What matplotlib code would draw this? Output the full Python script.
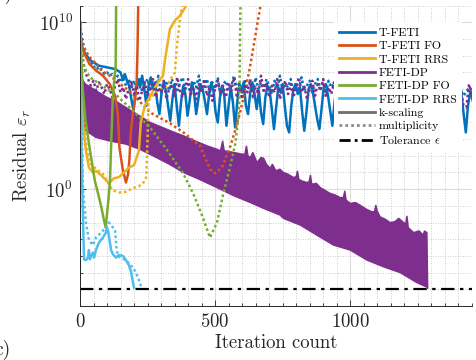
import numpy as np
import matplotlib
matplotlib.use('Agg')
import matplotlib.pyplot as plt
from matplotlib.lines import Line2D
from matplotlib.ticker import FixedLocator, MultipleLocator, LogFormatterSciNotation, NullFormatter

plt.rcParams['font.family'] = 'cmr10'
plt.rcParams['mathtext.fontset'] = 'cm'
plt.rcParams['axes.formatter.use_mathtext'] = True

# ---------------- data (iteration, log10 residual) ----------------
# T-FETI, k-scaling (solid)
tfeti_k_head_it = [0, 3, 8, 20, 40, 70, 100, 130]
tfeti_k_head_log = [10.0, 9.0, 8.5, 8.1, 7.7, 7.4, 7.3, 7.2]
tfeti_k_mid_it = list(range(150, 951, 8))
tfeti_k_mid_log = [7.0, 6.6, 6.9, 6.5, 6.2, 5.4, 4.7, 5.9, 6.6, 6.1, 6.8, 6.0, 5.0, 6.2, 6.7, 6.0, 6.4, 5.2,
                   4.5, 5.8, 6.4, 5.9, 5.0, 4.1, 5.4, 6.3, 5.0, 3.8, 5.2, 6.2, 5.7, 4.4, 5.3, 6.4, 5.8, 4.5,
                   5.4, 6.3, 6.0, 5.3, 4.5, 5.7, 6.4, 5.9, 4.6, 4.0, 5.5, 6.2, 5.6, 3.8, 5.0, 6.1, 5.2, 3.7,
                   5.2, 6.3, 5.9, 6.4, 5.0, 4.5, 5.8, 6.4, 5.7, 4.8, 5.9, 4.6, 3.9, 5.5, 6.2, 5.9, 4.8, 3.6,
                   4.9, 6.1, 5.8, 6.3, 5.0, 3.8, 3.4, 5.0, 6.0, 6.3, 5.7, 6.1, 4.7, 3.5, 4.6, 6.0, 6.3, 5.8,
                   5.0, 4.2, 3.6, 4.8, 6.1, 6.3, 5.6, 4.7, 3.8, 5.2, 6.2]
tfeti_k_tail_it = [1000, 1050, 1100, 1150, 1200, 1250, 1300, 1350, 1410, 1420, 1428, 1436, 1445, 1455]
tfeti_k_tail_log = [5.0, 6.0, 4.5, 6.1, 4.2, 6.0, 4.5, 6.2, 6.0, 4.5, 3.4, 5.0, 5.9, 5.2]

# T-FETI, multiplicity (dotted)
tfeti_m_it = list(range(0, 960, 10)) + [1000, 1050, 1100, 1150, 1200, 1250, 1300, 1350, 1400, 1420, 1440, 1460]
tfeti_m_log = [10.0, 8.8, 8.3, 7.9, 7.6, 7.3, 7.4, 7.1, 7.2, 6.9, 7.0, 6.8, 6.9, 6.6, 6.8, 6.4, 6.7, 6.2, 6.6, 6.0,
               6.5, 6.1, 6.7, 5.8, 6.3, 6.6, 5.9, 6.4, 6.0, 6.8, 5.7, 6.2, 6.5, 5.9, 6.6, 6.1, 5.8, 6.4, 6.7, 6.0,
               6.3, 5.7, 6.5, 6.1, 6.8, 5.9, 6.2, 6.6, 5.8, 6.4, 6.0, 6.7, 5.6, 6.3, 6.5, 5.9, 6.2, 6.8, 6.0, 6.4,
               5.7, 6.6, 6.1, 6.3, 5.8, 6.7, 6.0, 6.4, 5.9, 6.6, 6.2, 5.7, 6.5, 6.0, 6.8, 5.9, 6.3, 6.1, 6.6, 5.8,
               6.4, 6.0, 6.7, 5.9, 6.2, 6.5, 5.8, 6.3, 6.6, 6.0, 6.4, 5.7, 6.5, 6.1, 6.3, 5.9,
               6.3, 5.8, 6.5, 5.9, 6.4, 6.0, 6.6, 5.9, 6.2, 5.6, 6.1, 5.8]

# T-FETI FO
tfeti_fo_k_it = [0, 5, 20, 35, 60, 85, 110, 130, 140, 146, 158, 170, 178, 183, 188, 196, 204, 210, 213, 216]
tfeti_fo_k_log = [10.0, 8.6, 8.0, 7.5, 7.1, 6.8, 6.3, 5.6, 4.5, 2.5, 1.2, 0.4, 0.9, 1.8, 3.4, 4.6, 5.4, 6.5, 8.5, 11.5]
tfeti_fo_m_it = [0, 5, 20, 37, 60, 80, 110, 150, 192, 259, 333, 383, 444, 481, 500, 525, 555, 574, 592, 618, 630, 666, 675]
tfeti_fo_m_log = [10.0, 8.9, 8.3, 7.9, 7.5, 7.1, 6.8, 6.3, 5.75, 4.6, 3.95, 3.4, 2.6, 1.2, 0.96, 1.3, 2.5, 3.5,
                  4.55, 6.4, 7.4, 10.8, 11.5]

# T-FETI RRS
tfeti_rrs_k_it = [0, 3, 11, 22, 33, 48, 59, 78, 96, 107, 126, 144, 163, 181, 200, 218, 225, 240, 285, 307, 315,
                  333, 351, 370, 390, 400]
tfeti_rrs_k_log = [10.0, 7.0, 3.95, 2.3, 1.3, 1.0, 1.1, 0.84, 0.54, 0.36, 0.66, 0.72, 1.0, 1.3, 1.44, 2.3, 4.0,
                   5.0, 6.3, 6.8, 7.8, 9.6, 10.1, 10.4, 10.9, 11.3]
tfeti_rrs_m_it = [0, 8, 20, 35, 60, 85, 100, 120, 145, 170, 195, 220, 235, 245, 250, 254, 280, 320, 351, 359,
                  370, 380]
tfeti_rrs_m_log = [10.0, 6.0, 3.0, 1.6, 1.2, 0.9, 0.5, -0.06, -0.2, -0.15, 0.05, 0.2, 0.4, 0.7, 3.0, 5.3, 5.8,
                   6.2, 7.0, 8.6, 10.2, 11.2]

# FETI-DP, k-scaling: strongly oscillating -> upper and lower envelope
fetidp_k_up_it = [0, 3, 8, 20, 40, 70, 100, 130, 160, 200, 230, 260, 290, 320, 350, 383, 410, 440, 470, 506,
                  520, 528, 534, 570, 600, 610, 616, 622, 630, 640, 655, 670, 680, 690, 704, 712, 725, 740,
                  753, 770, 790, 800, 805, 810, 820, 840, 848, 853, 858, 875, 889, 910, 926, 945, 963, 975,
                  980, 985, 1000, 1020, 1037, 1060, 1080, 1090, 1095, 1100, 1111, 1130, 1148, 1165, 1180,
                  1198, 1205, 1210, 1215, 1235, 1255, 1270, 1275, 1284, 1287]
fetidp_k_up_log = [10.0, 8.0, 6.6, 6.3, 6.1, 5.8, 5.5, 5.3, 5.0, 4.6, 4.3, 4.0, 3.8, 3.6, 3.4, 3.2, 3.0, 2.8,
                   2.6, 2.4, 2.3, 2.9, 2.3, 2.2, 2.1, 2.1, 2.6, 2.0, 1.9, 2.2, 1.6, 1.9, 1.85, 1.5, 1.25, 1.5,
                   1.1, 1.2, 1.0, 0.9, 0.7, 0.75, 1.1, 0.6, 0.5, 0.4, 0.45, 0.85, 0.3, 0.35, 0.1, -0.1, -0.25,
                   -0.35, -0.5, -0.5, -0.1, -0.65, -0.85, -0.8, -0.96, -1.2, -1.35, -1.35, -0.95, -1.3, -1.66,
                   -1.8, -2.0, -1.95, -1.75, -2.0, -2.1, -1.6, -2.3, -2.6, -2.5, -2.75, -2.5, -2.6, -5.95]
fetidp_k_lo_it = [0, 3, 8, 15, 22, 59, 107, 170, 220, 270, 330, 383, 440, 506, 570, 630, 679, 740, 753, 815,
                  876, 938, 1000, 1062, 1123, 1185, 1247, 1284, 1287]
fetidp_k_lo_log = [10.0, 7.0, 4.5, 3.7, 3.5, 3.1, 2.9, 2.7, 2.4, 2.0, 1.5, 1.0, 0.6, 0.1, -0.4, -0.8, -1.15,
                   -1.55, -1.75, -2.15, -2.75, -3.35, -3.65, -4.25, -4.65, -5.0, -5.6, -5.87, -5.95]

# FETI-DP, multiplicity (dotted)
fetidp_m_it = list(range(0, 960, 10)) + [1000, 1050, 1100, 1150, 1200, 1250, 1300, 1350, 1400, 1410, 1420,
                                         1430, 1440, 1450, 1460]
fetidp_m_log = [10.0, 7.8, 7.0, 6.6, 6.2, 6.5, 5.9, 6.4, 6.1, 5.7, 6.3, 6.0, 5.5, 6.2, 6.6, 5.8, 6.1, 5.4, 6.0,
                6.5, 5.7, 6.2, 5.3, 5.9, 6.4, 5.6, 6.0, 6.6, 5.5, 6.1, 5.8, 6.5, 5.4, 6.0, 6.3, 5.6, 6.7, 5.9,
                5.5, 6.2, 6.6, 5.7, 6.0, 5.4, 6.3, 5.9, 6.6, 5.6, 6.1, 5.3, 6.0, 6.5, 5.7, 6.2, 5.5, 6.4, 5.9,
                6.7, 5.6, 6.0, 5.4, 6.3, 5.8, 6.6, 5.5, 6.1, 5.7, 6.8, 5.9, 6.4, 5.5, 6.2, 5.8, 6.6, 5.4, 6.0,
                6.5, 5.7, 6.3, 5.5, 6.1, 6.7, 5.8, 6.2, 5.4, 6.0, 6.5, 5.6, 6.3, 5.9, 6.6, 5.5, 6.1, 5.7, 6.4,
                5.8,
                6.2, 5.6, 6.3, 5.7, 6.2, 5.5, 6.0, 5.8, 6.1, 5.9, 5.0, 4.9, 6.3, 5.6, 6.0]

# FETI-DP FO
fetidp_fo_k_it = [0, 3, 10, 20, 33, 45, 55, 66, 78, 88, 95, 100, 106, 111, 116, 121, 127, 132, 134]
fetidp_fo_k_log = [10.0, 8.5, 6.0, 4.2, 2.75, 1.5, 0.5, -0.2, -1.0, -1.8, -2.3, -1.5, -0.5, 0.5, 3.0, 5.3, 6.6,
                   7.3, 11.5]
fetidp_fo_m_it = [0, 5, 15, 37, 74, 137, 196, 259, 320, 382, 420, 455, 481, 507, 530, 555, 575, 585, 590, 594]
fetidp_fo_m_log = [10.0, 8.5, 7.3, 6.7, 6.3, 5.6, 4.7, 3.7, 2.4, 0.94, -0.3, -1.7, -2.9, -2.0, -0.3, 1.3, 2.75,
                   4.1, 5.3, 11.5]

# FETI-DP RRS
fetidp_rrs_k_it = [0, 3, 6, 10, 13, 15, 22, 30, 33, 37, 41, 48, 52, 59, 70, 85, 96, 100, 104, 107, 115, 122,
                   133, 144, 159, 170, 181, 189, 196, 200]
fetidp_rrs_k_log = [10.0, 6.0, 2.0, -1.0, -3.0, -4.2, -4.25, -4.1, -3.65, -4.2, -4.0, -3.8, -4.1, -3.65, -3.2,
                    -2.9, -2.6, -2.3, -2.5, -2.8, -3.65, -3.9, -4.1, -3.95, -4.0, -4.25, -4.55, -4.95, -5.6, -5.9]
fetidp_rrs_m_it = [0, 4, 8, 11, 22, 33, 48, 59, 78, 96, 107, 122, 130, 135, 140, 150, 170, 196, 207, 218, 228]
fetidp_rrs_m_log = [10.0, 6.0, 2.5, 0.0, -2.0, -3.05, -3.35, -2.9, -2.6, -2.3, -2.0, -2.3, -2.5, -3.5, -4.0,
                    -4.1, -4.25, -4.7, -5.0, -5.45, -5.9]

tol_it = [0, 1460]
tolerance = 1e-6

labels = ['T-FETI', 'T-FETI FO', 'T-FETI RRS', 'FETI-DP', 'FETI-DP FO', 'FETI-DP RRS',
          'k-scaling', 'multiplicity', r'Tolerance $\epsilon$']

# ---------------- styling ----------------
C_BLUE = '#0072BD'
C_ORANGE = '#D95319'
C_YELLOW = '#EDB120'
C_PURPLE = '#7E2F8E'
C_GREEN = '#77AC30'
C_LBLUE = '#4DBEEE'
LW = 1.8
DOT = (0, (1, 1.1))


def p10(a):
    return 10.0 ** np.asarray(a, dtype=float)


fig = plt.figure(figsize=(4.77, 3.6), dpi=100)
ax = fig.add_axes([0.1677, 0.15, 0.8213, 0.8344])
ax.set_yscale('log')

# FETI-DP k-scaling band
band_x = np.concatenate([fetidp_k_up_it, fetidp_k_lo_it[::-1]])
band_y = np.concatenate([p10(fetidp_k_up_log), p10(fetidp_k_lo_log)[::-1]])
ax.fill(band_x, band_y, color=C_PURPLE, lw=1.0, zorder=2)

tfeti_k_it = tfeti_k_head_it + tfeti_k_mid_it + tfeti_k_tail_it
tfeti_k_log = tfeti_k_head_log + tfeti_k_mid_log + tfeti_k_tail_log
ax.plot(tfeti_k_it, p10(tfeti_k_log), color=C_BLUE, lw=LW)
ax.plot(tfeti_m_it, p10(tfeti_m_log), color=C_BLUE, lw=LW, ls=DOT)
ax.plot(tfeti_fo_k_it, p10(tfeti_fo_k_log), color=C_ORANGE, lw=LW)
ax.plot(tfeti_fo_m_it, p10(tfeti_fo_m_log), color=C_ORANGE, lw=LW, ls=DOT)
ax.plot(tfeti_rrs_k_it, p10(tfeti_rrs_k_log), color=C_YELLOW, lw=LW)
ax.plot(tfeti_rrs_m_it, p10(tfeti_rrs_m_log), color=C_YELLOW, lw=LW, ls=DOT)
ax.plot(fetidp_m_it, p10(fetidp_m_log), color=C_PURPLE, lw=LW, ls=DOT)
ax.plot(fetidp_fo_k_it, p10(fetidp_fo_k_log), color=C_GREEN, lw=LW)
ax.plot(fetidp_fo_m_it, p10(fetidp_fo_m_log), color=C_GREEN, lw=LW, ls=DOT)
ax.plot(fetidp_rrs_k_it, p10(fetidp_rrs_k_log), color=C_LBLUE, lw=LW)
ax.plot(fetidp_rrs_m_it, p10(fetidp_rrs_m_log), color=C_LBLUE, lw=LW, ls=DOT)
ax.plot(tol_it, [tolerance] * len(tol_it), color='black', lw=1.6, ls=(0, (6, 2.5, 1.5, 2.5)))

ax.set_xlim(0, 1450)
ax.set_ylim(1e-7, 1e11)

ax.xaxis.set_major_locator(FixedLocator([0, 500, 1000]))
ax.xaxis.set_minor_locator(MultipleLocator(50))
ax.yaxis.set_major_locator(FixedLocator([1e0, 1e10]))
ax.yaxis.set_major_formatter(LogFormatterSciNotation())
ax.yaxis.set_minor_locator(FixedLocator([10.0 ** k for k in range(-7, 12) if k not in (0, 10)]))
ax.yaxis.set_minor_formatter(NullFormatter())

ax.grid(which='major', color='#dcdcdc', lw=0.8, ls='-')
ax.grid(which='minor', color='#bdbdbd', lw=0.6, ls=(0, (1, 2)))
ax.set_axisbelow(True)

for s in ('top', 'right'):
    ax.spines[s].set_visible(False)
for s in ('left', 'bottom'):
    ax.spines[s].set_color('#262626')
    ax.spines[s].set_linewidth(0.7)
ax.tick_params(which='both', direction='in', color='#262626', width=0.6, labelsize=13.5,
               labelcolor='#262626')
ax.tick_params(which='major', length=4, pad=5)
ax.tick_params(which='minor', length=2.5)

ax.set_xlabel('Iteration count', fontsize=13.5, color='#262626', labelpad=2)
ax.set_ylabel(r'Residual $\varepsilon_r$', fontsize=13.5, color='#262626', labelpad=4)

handles = [Line2D([], [], color=c, lw=2) for c in (C_BLUE, C_ORANGE, C_YELLOW, C_PURPLE, C_GREEN, C_LBLUE)]
handles += [Line2D([], [], color='#6e6e6e', lw=2),
            Line2D([], [], color='#8c8c8c', lw=2, ls=DOT),
            Line2D([], [], color='black', lw=2, ls=(0, (4, 1.5, 1, 1.5)))]
leg = ax.legend(handles, labels, loc='upper right', bbox_to_anchor=(0.975, 0.945), fontsize=8.6,
                frameon=True, fancybox=False, edgecolor='none', facecolor='white', framealpha=1,
                handlelength=3.0, handletextpad=0.3, labelspacing=0.25, borderpad=0.45, borderaxespad=0)

fig.text(-0.012, 0.028, 'c)', fontsize=14, color='#262626', va='center')
fig.text(-0.012, 1.004, 'b)', fontsize=14, color='#262626', va='baseline')

fig.savefig('out.png', dpi=100)
